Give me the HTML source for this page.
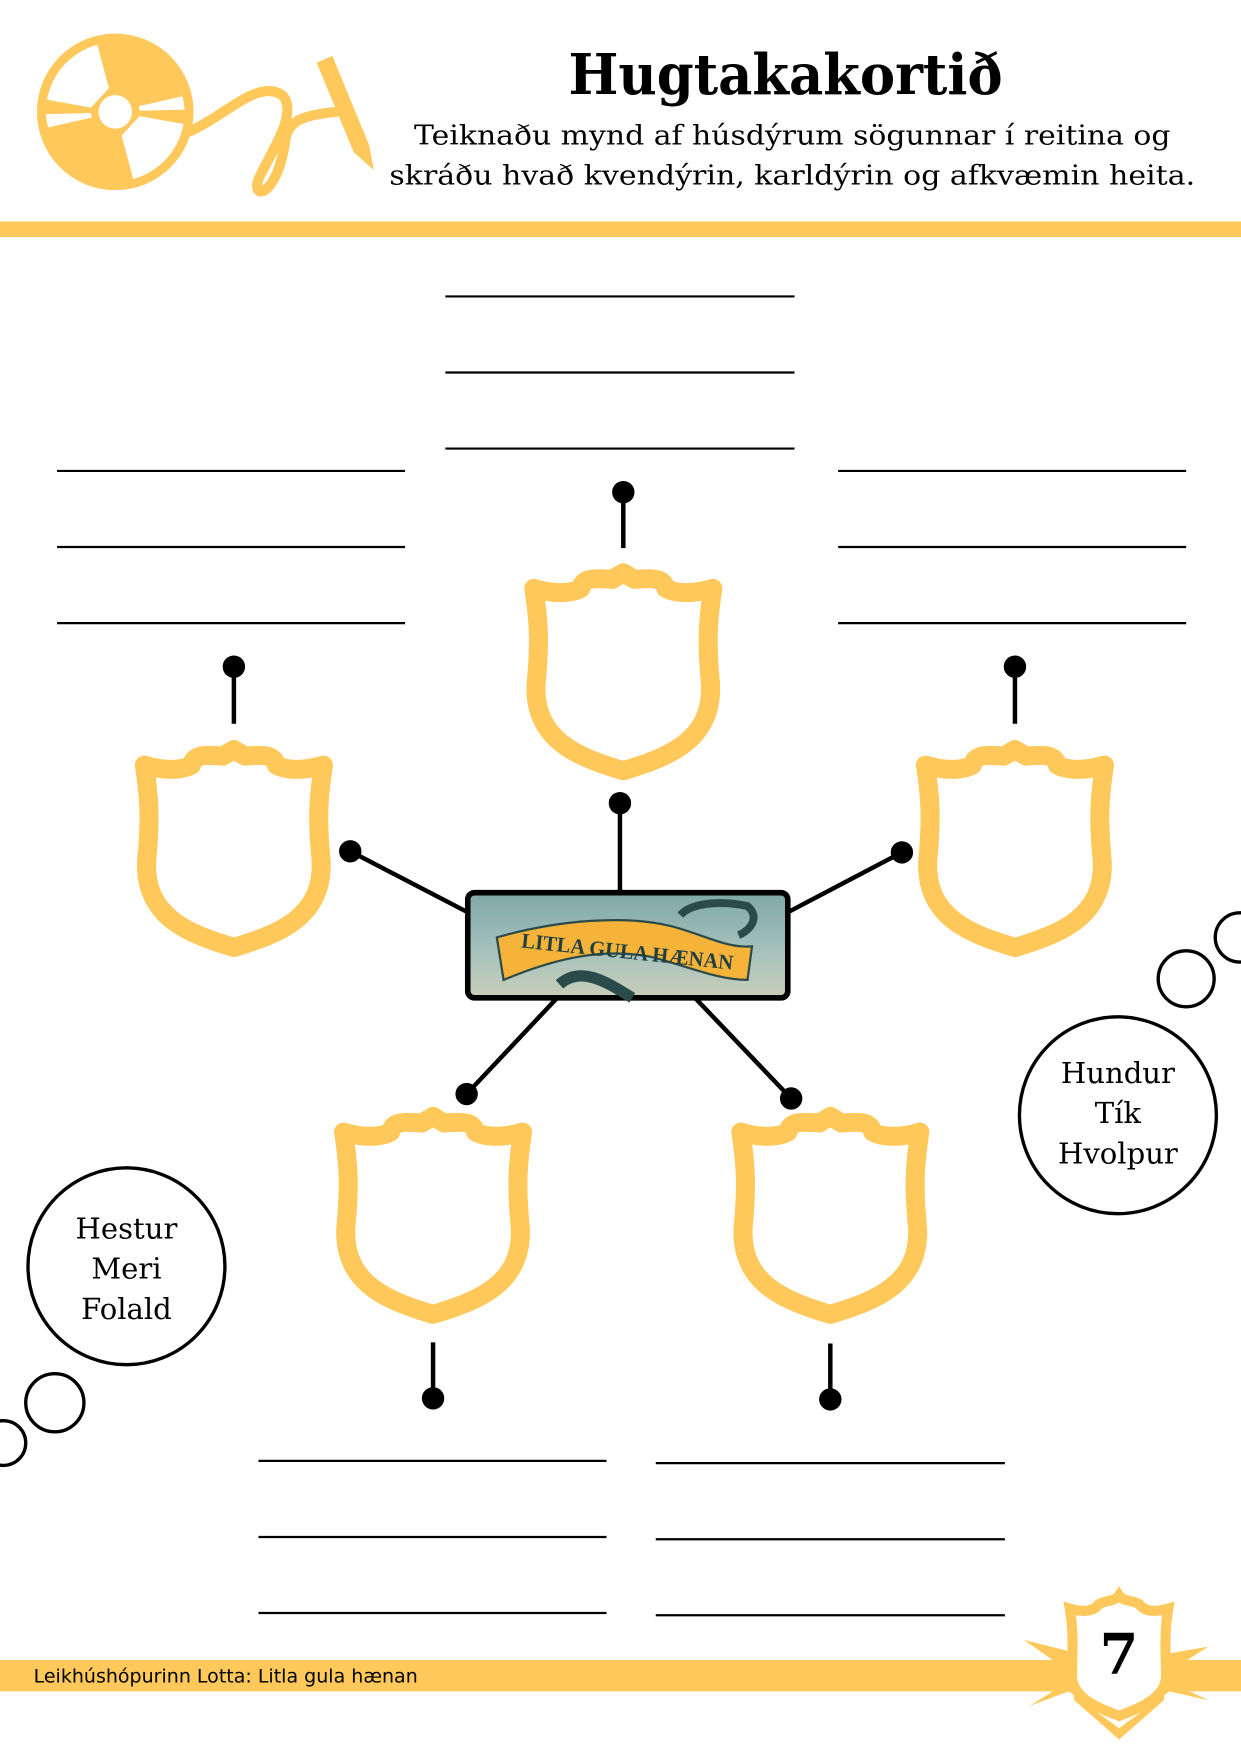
<!DOCTYPE html>
<html><head><meta charset="utf-8"><style>
html,body{margin:0;padding:0;background:#fff}
svg{display:block}
.t{font-family:"DejaVu Serif","Liberation Serif",serif}
</style></head><body>
<svg width="1241" height="1754" viewBox="0 0 1109 1568" preserveAspectRatio="none" xmlns="http://www.w3.org/2000/svg">
<defs>
<g id="sh"><path d="M-80,14 C-60,20 -45,18 -38,14 C-36,6 -30,4 -10,6 L0,0 L10,6 C30,4 36,6 38,14 C45,18 60,20 80,14 C76,40 74,60 78,100 C80,150 40,165 0,177 C-40,165 -80,150 -78,100 C-74,60 -76,40 -80,14 Z" fill="none" stroke="#fec85a" stroke-width="17" stroke-linejoin="round"/></g>
<linearGradient id="sky" x1="0" y1="0" x2="0" y2="1"><stop offset="0" stop-color="#7fa8a8"/><stop offset="0.6" stop-color="#a9c3bd"/><stop offset="1" stop-color="#c9cdb8"/></linearGradient>
</defs>
<!-- header CD -->
<g transform="translate(103,100)">
<circle r="70" fill="#fec85a"/>
<path d="M-21.7,-3.8 L-61,-10.8 A62,62 0 0 1 -16,-60 L-5.7,-21.2 Z" fill="#fff"/>
<path d="M21.7,3.8 L61,10.8 A62,62 0 0 1 16,60 L5.7,21.2 Z" fill="#fff"/>
<path d="M-21,5 L-60,14 A62,62 0 0 1 -62,2 L-22,1 Z" fill="#fff"/>
<path d="M21,-5 L60,-14 A62,62 0 0 1 62,-2 L22,-1 Z" fill="#fff"/>
<circle r="15" fill="#fff"/>
</g>
<path d="M168,118 C200,105 230,70 252,85 C268,100 240,140 232,158 C222,180 248,178 255,125 C258,108 270,103 300,100" fill="none" stroke="#fec85a" stroke-width="9" stroke-linecap="round"/>
<path d="M283,56 L316,136 L330,130 L297,50 Z" fill="#fec85a"/>
<path d="M316,136 L334,152 L330,130 Z" fill="#fec85a"/>
<text x="702" y="84" text-anchor="middle" class="t" font-weight="bold" font-size="50" textLength="388" lengthAdjust="spacingAndGlyphs">Hugtakakortið</text>
<text x="708" y="129" text-anchor="middle" class="t" font-size="24" textLength="676" lengthAdjust="spacingAndGlyphs">Teiknaðu mynd af húsdýrum sögunnar í reitina og</text>
<text x="708" y="165" text-anchor="middle" class="t" font-size="24" textLength="720" lengthAdjust="spacingAndGlyphs">skráðu hvað kvendýrin, karldýrin og afkvæmin heita.</text>
<rect x="0" y="198" width="1109" height="14" fill="#fec85a"/>
<!-- lines -->
<g stroke="#000" stroke-width="2">
<line x1="398" y1="265" x2="710" y2="265"/><line x1="398" y1="333" x2="710" y2="333"/><line x1="398" y1="401" x2="710" y2="401"/>
<line x1="51" y1="421" x2="362" y2="421"/><line x1="51" y1="489" x2="362" y2="489"/><line x1="51" y1="557" x2="362" y2="557"/>
<line x1="749" y1="421" x2="1060" y2="421"/><line x1="749" y1="489" x2="1060" y2="489"/><line x1="749" y1="557" x2="1060" y2="557"/>
<line x1="231" y1="1306" x2="542" y2="1306"/><line x1="231" y1="1374" x2="542" y2="1374"/><line x1="231" y1="1442" x2="542" y2="1442"/>
<line x1="586" y1="1308" x2="898" y2="1308"/><line x1="586" y1="1376" x2="898" y2="1376"/><line x1="586" y1="1444" x2="898" y2="1444"/>
</g>
<!-- shields -->
<use href="#sh" x="557" y="512"/>
<use href="#sh" x="209" y="670"/>
<use href="#sh" x="907" y="670"/>
<use href="#sh" x="387" y="998"/>
<use href="#sh" x="742" y="998"/>
<!-- connectors -->
<g stroke="#000" stroke-width="4" fill="#000">
<line x1="557" y1="440" x2="557" y2="490"/><circle cx="557" cy="440" r="8"/>
<line x1="209" y1="596" x2="209" y2="647"/><circle cx="209" cy="596" r="8"/>
<line x1="907" y1="596" x2="907" y2="647"/><circle cx="907" cy="596" r="8"/>
<line x1="387" y1="1200" x2="387" y2="1250"/><circle cx="387" cy="1250" r="8"/>
<line x1="742" y1="1201" x2="742" y2="1251"/><circle cx="742" cy="1251" r="8"/>
<line x1="554" y1="718" x2="554" y2="797"/><circle cx="554" cy="718" r="8"/>
<line x1="313" y1="761" x2="417" y2="815"/><circle cx="313" cy="761" r="8"/>
<line x1="806" y1="762" x2="705" y2="815"/><circle cx="806" cy="762" r="8"/>
<line x1="497" y1="893" x2="417" y2="978"/><circle cx="417" cy="978" r="8"/>
<line x1="622" y1="893" x2="707" y2="982"/><circle cx="707" cy="982" r="8"/>
</g>
<!-- center image -->
<rect x="418" y="798" width="286" height="94" rx="6" fill="url(#sky)" stroke="#000" stroke-width="5"/>
<path d="M608,818 C620,805 650,806 668,810 C680,820 670,832 660,836" fill="none" stroke="#2b4a4a" stroke-width="7"/>
<path d="M500,880 C520,862 545,880 565,892" fill="none" stroke="#2b4a4a" stroke-width="10"/>
<path d="M444,838 C500,822 560,818 600,828 C630,836 650,848 672,846 L668,876 C640,876 610,862 580,855 C540,848 500,855 450,876 Z" fill="#f5b33a" stroke="#2b4a4a" stroke-width="2"/>
<text x="560" y="857" text-anchor="middle" font-family="Liberation Serif,serif" font-size="19" fill="#1f3f40" font-weight="bold" textLength="190" lengthAdjust="spacingAndGlyphs" transform="rotate(6 560 857)">LITLA GULA HÆNAN</text>
<!-- circles -->
<g fill="none" stroke="#000" stroke-width="3">
<circle cx="999" cy="997" r="88"/>
<circle cx="113" cy="1132" r="88"/>
<circle cx="1060" cy="875" r="25"/>
<circle cx="1108" cy="838" r="22"/>
<circle cx="49" cy="1254" r="26"/>
<circle cx="3" cy="1290" r="20"/>
</g>
<g class="t" font-size="26" text-anchor="middle">
<text x="999" y="968">Hundur</text><text x="999" y="1004">Tík</text><text x="999" y="1040">Hvolpur</text>
<text x="113" y="1107">Hestur</text><text x="113" y="1143">Meri</text><text x="113" y="1179">Folald</text>
</g>
<!-- footer -->
<rect x="0" y="1484" width="1109" height="28" fill="#fec85a"/>
<text x="30" y="1504" font-family="DejaVu Sans,Liberation Sans,sans-serif" font-size="17">Leikhúshópurinn Lotta: Litla gula hænan</text>
<path d="M915,1466 L955,1476 L960,1520 L1000,1555 L1040,1520 L1045,1478 L1080,1472 L1048,1492 L1048,1505 L1080,1520 L1045,1512 L1000,1545 L955,1512 L920,1525 L952,1505 L952,1492 Z" fill="#fec85a"/>
<path d="M-44,8 C-30,12 -22,10 -18,4 C-10,0 -4,2 0,-4 C4,2 10,0 18,4 C22,10 30,12 44,8 C40,30 42,50 42,70 C40,90 15,98 0,104 C-15,98 -40,90 -42,70 C-42,50 -40,30 -44,8 Z" transform="translate(1000,1430)" fill="#fff" stroke="#fec85a" stroke-width="9"/>
<text x="1000" y="1496" text-anchor="middle" class="t" font-weight="bold" font-size="50">7</text>
</svg>
</body></html>
